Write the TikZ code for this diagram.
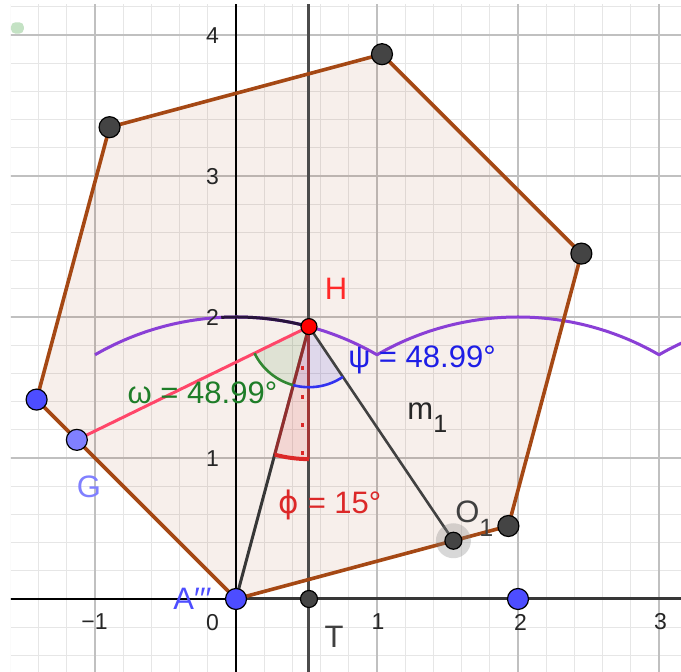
\documentclass[tikz,border=0pt]{standalone}
\usepackage{fontspec}
\setmainfont{Liberation Sans}
\newfontfamily\dejavu{DejaVu Sans}
\definecolor{gridmin}{RGB}{230,230,230}
\definecolor{gridmaj}{RGB}{192,192,192}
\definecolor{hexbrown}{RGB}{165,72,20}
\definecolor{hexfill}{RGB}{153,51,0}
\definecolor{ptgray}{RGB}{68,68,68}
\definecolor{ptblue}{RGB}{77,77,255}
\definecolor{ptlblue}{RGB}{128,128,255}
\definecolor{locus}{RGB}{138,63,214}
\definecolor{darkarc}{RGB}{40,20,60}
\definecolor{pinkline}{RGB}{255,70,105}
\definecolor{linegray}{RGB}{55,55,55}
\definecolor{angred}{RGB}{220,40,40}
\definecolor{anggreen}{RGB}{50,135,50}
\definecolor{txtgreen}{RGB}{30,125,40}
\definecolor{angblue}{RGB}{50,50,240}
\definecolor{txtblue}{RGB}{30,30,230}
\definecolor{labred}{RGB}{255,40,40}
\definecolor{blob}{RGB}{196,226,196}
\tikzset{
  bigpt/.style={circle,draw=black,line width=0.6pt,inner sep=0pt,minimum size=10.5pt},
  smallpt/.style={circle,draw=black,line width=0.6pt,inner sep=0pt,minimum size=8.5pt},
  axlab/.style={text=black!85,font=\fontsize{11.5}{13}\selectfont,inner sep=0pt},
  biglab/.style={font=\fontsize{15.5}{18}\selectfont,inner sep=0pt},
  segline/.style={line width=1.5pt,line cap=round}
}
\begin{document}
\begin{tikzpicture}[x=70.5pt,y=70.5pt]
\useasboundingbox (-1.6738,-0.5177) rectangle (3.1560,4.2482);
\fill[white] (-1.6738,-0.5177) rectangle (3.1560,4.2482);
% coordinates
\coordinate (A) at (0,0);
\coordinate (V1) at (1.9319,0.5176);
\coordinate (V2) at (2.4495,2.4495);
\coordinate (V3) at (1.0353,3.8637);
\coordinate (V4) at (-0.8966,3.3461);
\coordinate (V5) at (-1.4142,1.4142);
\coordinate (H) at (0.5176,1.9319);
\coordinate (T) at (0.5176,0);
\coordinate (P2) at (2,0);
\coordinate (G) at (-1.1287,1.1287);
\coordinate (O) at (1.5418,0.4131);
\coordinate (vtop) at (0.5176,4.3);
\coordinate (vbot) at (0.5176,-0.6);
\coordinate (xright) at (3.3,0);
\coordinate (xleft) at (-1.7,0);
\coordinate (ytop) at (0,4.3);
\coordinate (ybot) at (0,-0.6);
\begin{scope}
\clip (-1.596,-0.5177) rectangle (3.1560,4.215);
% grid
\draw[gridmin,line width=0.5pt] (-1.6,-0.6) grid[step=0.2] (3.2,4.4);
\draw[gridmaj,line width=0.6pt] (-2,-1) grid[step=1] (4,5);
% hexagon fill
\fill[hexfill,opacity=0.08] (A) -- (V1) -- (V2) -- (V3) -- (V4) -- (V5) -- cycle;
% axes
\draw[black,line width=0.8pt] (xleft) -- (xright);
\draw[black,line width=0.8pt] (ybot) -- (ytop);
\draw[linegray,line width=1.5pt] (A) -- (xright);
\draw[linegray!90!white,line width=1.5pt] (vbot) -- (vtop);
% locus
\draw[locus,line width=1.5pt,line join=round]
  (120:2) arc[start angle=120,end angle=60,radius=2]
  arc[start angle=120,end angle=60,radius=2]
  arc[start angle=120,end angle=95,radius=2];
\draw[darkarc,line width=1.5pt] (93:2) arc[start angle=93,end angle=75,radius=2];
% angles
\fill[anggreen,opacity=0.12] (H) -- ++(206.01:0.43) arc[start angle=206.01,end angle=255,radius=0.43] -- cycle;
\fill[angblue,opacity=0.12] (H) -- ++(255:0.43) arc[start angle=255,end angle=304,radius=0.43] -- cycle;
\fill[angred,opacity=0.12] (H) -- ++(255:0.94) arc[start angle=255,end angle=270,radius=0.94] -- cycle;
% segments
\draw[pinkline,segline] (G) -- (H);
\draw[linegray,segline] (H) -- (A);
\draw[linegray!95!white,line width=1.3pt] (H) -- (O);
\draw[angred,opacity=0.55,line width=1.5pt] (H) -- ++(255:0.94);
\draw[angred,opacity=0.55,line width=1.5pt] (H) -- ++(270:0.94);
\draw[angred,line width=2pt] (H) ++(255:0.94) arc[start angle=255,end angle=270,radius=0.94];
\foreach \yy in {1.638,1.433,1.234,1.035}
  \fill[angred] (0.473-0.011,\yy-0.016) rectangle (0.473+0.011,\yy+0.016);
\draw[anggreen,line width=1.3pt] (H) ++(206.01:0.43) arc[start angle=206.01,end angle=255,radius=0.43];
\draw[angblue,line width=1.3pt] (H) ++(255:0.43) arc[start angle=255,end angle=304,radius=0.43];
% hexagon edges
\draw[hexbrown,line width=1.8pt,line join=round] (A) -- (V1) -- (V2) -- (V3) -- (V4) -- (V5) -- cycle;
\end{scope}
% blob
\fill[blob,rounded corners=2.2pt] (-1.596,4.010) rectangle (-1.505,4.090);
% points
\fill[gray,opacity=0.3] (O) circle[radius=8.75pt];
\node[bigpt,fill=ptgray] (pV1) at (V1) {};
\node[bigpt,fill=ptgray] (pV2) at (V2) {};
\node[bigpt,fill=ptgray] (pV3) at (V3) {};
\node[bigpt,fill=ptgray] (pV4) at (V4) {};
\node[bigpt,fill=ptblue] (pV5) at (V5) {};
\node[bigpt,fill=ptblue] (pA) at (A) {};
\node[bigpt,fill=ptblue] (pP2) at (P2) {};
\node[bigpt,fill=ptlblue] (pG) at (G) {};
\node[smallpt,fill=ptgray] (pT) at (T) {};
\node[smallpt,fill=ptgray] (pO) at (O) {};
\node[circle,draw=black,line width=0.6pt,inner sep=0pt,minimum size=8pt,fill=red] (pH) at (H) {};
% axis labels
\node[axlab] (l4) at (-0.167,3.996) {4};
\node[axlab] (l3) at (-0.167,2.996) {3};
\node[axlab] (l2) at (-0.167,1.996) {2};
\node[axlab] (l1) at (-0.167,0.996) {1};
\node[axlab] (l0) at (-0.167,-0.167) {0};
\node[axlab] (lm1) at (-1.004,-0.163) {−1};
\node[axlab] (lx1) at (1.007,-0.163) {1};
\node[axlab] (lx2) at (2.018,-0.163) {2};
\node[axlab] (lx3) at (3.010,-0.163) {3};
% labels
\node[biglab,text=labred] (lH) at (0.709,2.202) {H};
\node[biglab,text=txtblue] (lpsi) at (1.319,1.695) {ψ = 48.99°};
\node[biglab,text=txtgreen] (lomega) at (-0.238,1.461) {ω = 48.99°};
\node[biglab,text=angred] (lphi) at (0.667,0.667) {{\dejavu ϕ} = 15°};
\node[biglab,text=black!85,anchor=base west] (lm) at (1.213,1.27) {m\raisebox{-0.4em}{\fontsize{12.5}{14}\selectfont 1}};
\node[biglab,text=black!75,anchor=base west] (lO) at (1.553,0.539) {O\raisebox{-0.45em}{\fontsize{12.5}{14}\selectfont 1}};
\node[biglab,text=ptlblue] (lG) at (-1.043,0.794) {G};
\node[biglab,text=ptblue] (lA) at (-0.309,0.004) {A′′′};
\node[biglab,text=black!75] (lT) at (0.695,-0.266) {T};
\end{tikzpicture}
\end{document}
